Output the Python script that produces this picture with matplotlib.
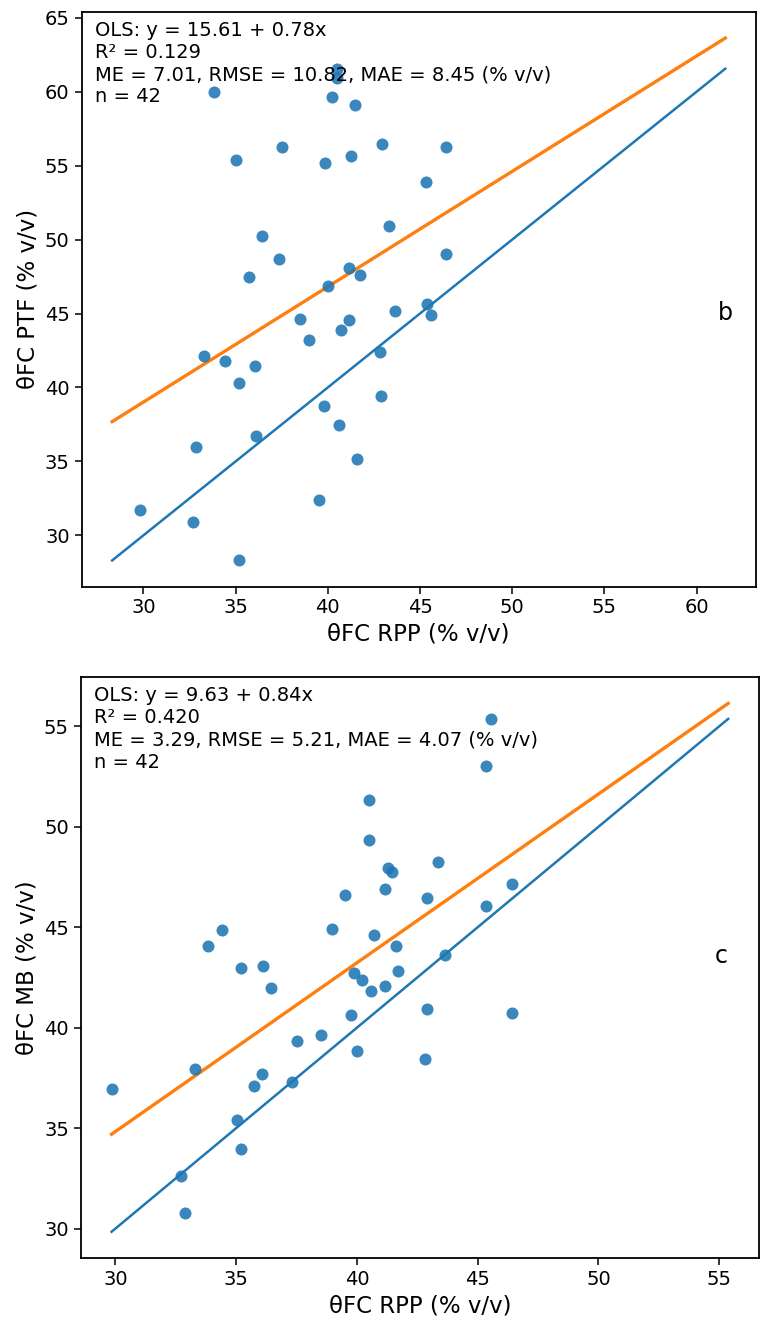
import numpy as np
import matplotlib
matplotlib.use('Agg')
import matplotlib.pyplot as plt

# theta FC measured by RPP (same samples in both panels)
rpp = [29.84, 32.71, 32.86, 33.28, 33.83, 34.42, 35.05, 35.20, 35.20, 35.72,
       36.06, 36.12, 36.46, 37.33, 37.53, 38.50, 38.97, 39.51, 39.77, 39.86,
       39.99, 40.22, 40.48, 40.49, 40.60, 40.70, 41.15, 41.17, 41.27, 41.45,
       41.61, 41.72, 42.81, 42.89, 42.92, 43.34, 43.66, 45.33, 45.36, 45.57,
       46.41, 46.42]

# panel b: pedotransfer function estimate
ptf = [31.69, 30.92, 35.99, 42.12, 60.00, 41.80, 55.38, 40.29, 28.31, 47.48,
       41.47, 36.71, 50.25, 48.67, 56.24, 44.64, 43.20, 32.39, 38.74, 55.20,
       46.85, 59.66, 61.55, 60.95, 37.45, 43.87, 48.11, 44.53, 55.63, 59.12,
       35.16, 47.59, 42.41, 39.41, 56.44, 50.90, 45.16, 53.87, 45.66, 44.93,
       56.24, 48.99]

# panel c: MB estimate
mb = [36.93, 32.60, 30.77, 37.94, 44.05, 44.87, 35.40, 42.98, 33.97, 37.11,
      37.71, 43.06, 41.98, 37.27, 39.35, 39.63, 44.92, 46.59, 40.64, 42.71,
      38.83, 42.35, 51.35, 49.35, 41.80, 44.60, 42.07, 46.89, 47.95, 47.74,
      44.07, 42.81, 38.42, 40.92, 46.43, 48.23, 43.64, 53.00, 46.08, 55.37,
      47.16, 40.74]

panels = [
    {'y': ptf, 'ylabel': 'θFC PTF (% v/v)', 'tag': 'b', 'coef': (15.61, 0.78),
     'stats': 'OLS: y = 15.61 + 0.78x\nR² = 0.129\n'
              'ME = 7.01, RMSE = 10.82, MAE = 8.45 (% v/v)\nn = 42',
     'rect': [0.106, 0.559, 0.877, 0.432], 'tagpos': (0.955, 0.476)},
    {'y': mb, 'ylabel': 'θFC MB (% v/v)', 'tag': 'c', 'coef': (9.63, 0.84),
     'stats': 'OLS: y = 9.63 + 0.84x\nR² = 0.420\n'
              'ME = 3.29, RMSE = 5.21, MAE = 4.07 (% v/v)\nn = 42',
     'rect': [0.105, 0.054, 0.882, 0.437], 'tagpos': (0.945, 0.52)},
]

fig = plt.figure(figsize=(7.69, 13.3), dpi=100)

for p in panels:
    ax = fig.add_axes(p['rect'])
    x = np.array(rpp)
    y = np.array(p['y'])
    lo = min(x.min(), y.min())
    hi = max(x.max(), y.max())
    line_x = np.array([lo, hi])

    ax.scatter(x, y, s=75, color='#1f77b4', alpha=0.88, linewidths=0, zorder=3)
    ax.plot(line_x, line_x, color='#1f77b4', linewidth=1.8)
    b0, b1 = p['coef']
    ax.plot(line_x, b0 + b1 * line_x, color='#ff7f0e', linewidth=2.4)

    ax.text(0.02, 0.985, p['stats'], transform=ax.transAxes, va='top', ha='left',
            fontsize=14, linespacing=1.22)
    ax.text(p['tagpos'][0], p['tagpos'][1], p['tag'], transform=ax.transAxes,
            ha='center', va='center', fontsize=17)

    ax.set_xlabel('θFC RPP (% v/v)', fontsize=16.5)
    ax.set_ylabel(p['ylabel'], fontsize=16.5)
    ax.tick_params(labelsize=14, length=5, width=1.1)
    for spine in ax.spines.values():
        spine.set_linewidth(1.3)

fig.savefig('out.png', dpi=100)
